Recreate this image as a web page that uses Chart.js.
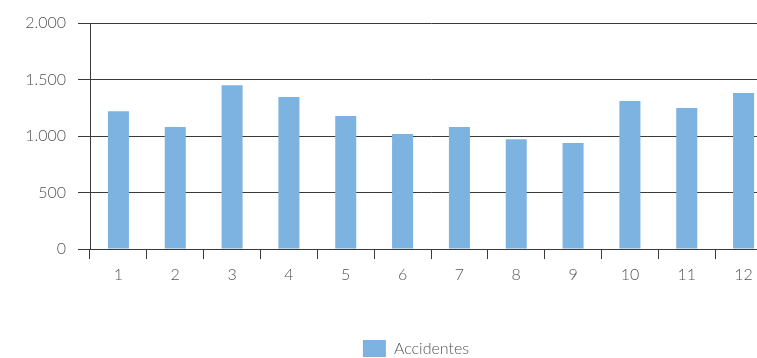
<!DOCTYPE html>
<html>
<head>
<meta charset="utf-8">
<script src="https://cdn.jsdelivr.net/npm/chart.js@4/dist/chart.umd.min.js"></script>
<style>
  html, body { margin: 0; padding: 0; background: #fff; overflow: hidden; }
  #wrap { position: relative; width: 832px; height: 358px; }
</style>
</head>
<body>
<div id="wrap"><canvas id="chart"></canvas></div>
<script>
// Accidentes por mes (1..12)
const MONTHS = ["1", "2", "3", "4", "5", "6", "7", "8", "9", "10", "11", "12"];
const ACCIDENTES = [1220, 1080, 1450, 1345, 1177, 1017, 1080, 972, 937, 1310, 1248, 1381];
const SERIES_LABEL = "Accidentes";

const BAR = "#7cb3e1";
const INK = "#555555";
const RULE = "#3a3a3a";
const FONT = { family: "Lato, 'Open Sans', sans-serif", size: 16, weight: "300" };

// thousands with a dot, as in the original ("2.000")
const fmtDot = (v) => String(v).replace(/\B(?=(\d{3})+(?!\d))/g, ".");

new Chart(document.getElementById("chart"), {
  type: "bar",
  data: {
    labels: MONTHS,
    datasets: [{
      label: SERIES_LABEL,
      data: ACCIDENTES,
      backgroundColor: BAR,
      borderWidth: 0,
      categoryPercentage: 1,
      barPercentage: 0.37,
    }],
  },
  options: {
    responsive: true,
    maintainAspectRatio: false,
    animation: false,
    // negative bottom padding drops the legend to the very bottom like the original
    layout: { padding: { top: 23, left: 0, right: 0, bottom: -9 } },
    plugins: {
      tooltip: { enabled: false },
      legend: {
        position: "bottom",
        labels: { color: INK, font: FONT, boxWidth: 23, boxHeight: 17, padding: 10 },
      },
    },
    scales: {
      x: {
        offset: true,
        grid: { offset: true, drawOnChartArea: false, drawTicks: true, tickLength: 10, color: RULE },
        border: { display: false },
        ticks: { color: INK, font: FONT, padding: 6, maxRotation: 0 },
        afterFit: (s) => { s.height = 81; },
      },
      y: {
        min: 0,
        max: 2000,
        grid: { color: RULE, tickLength: 12, drawTicks: true },
        border: { display: true, color: RULE },
        ticks: { stepSize: 500, color: INK, font: FONT, padding: 12, callback: (v) => fmtDot(v) },
        afterFit: (s) => { s.width = 90; },
      },
      // empty right-hand box: pushes the plot past the window edge like the original
      spacer: {
        position: "right",
        display: true,
        grid: { display: false },
        border: { display: false },
        ticks: { display: false },
        afterFit: (s) => { s.width = 60; },
      },
    },
  },
});
</script>
</body>
</html>
